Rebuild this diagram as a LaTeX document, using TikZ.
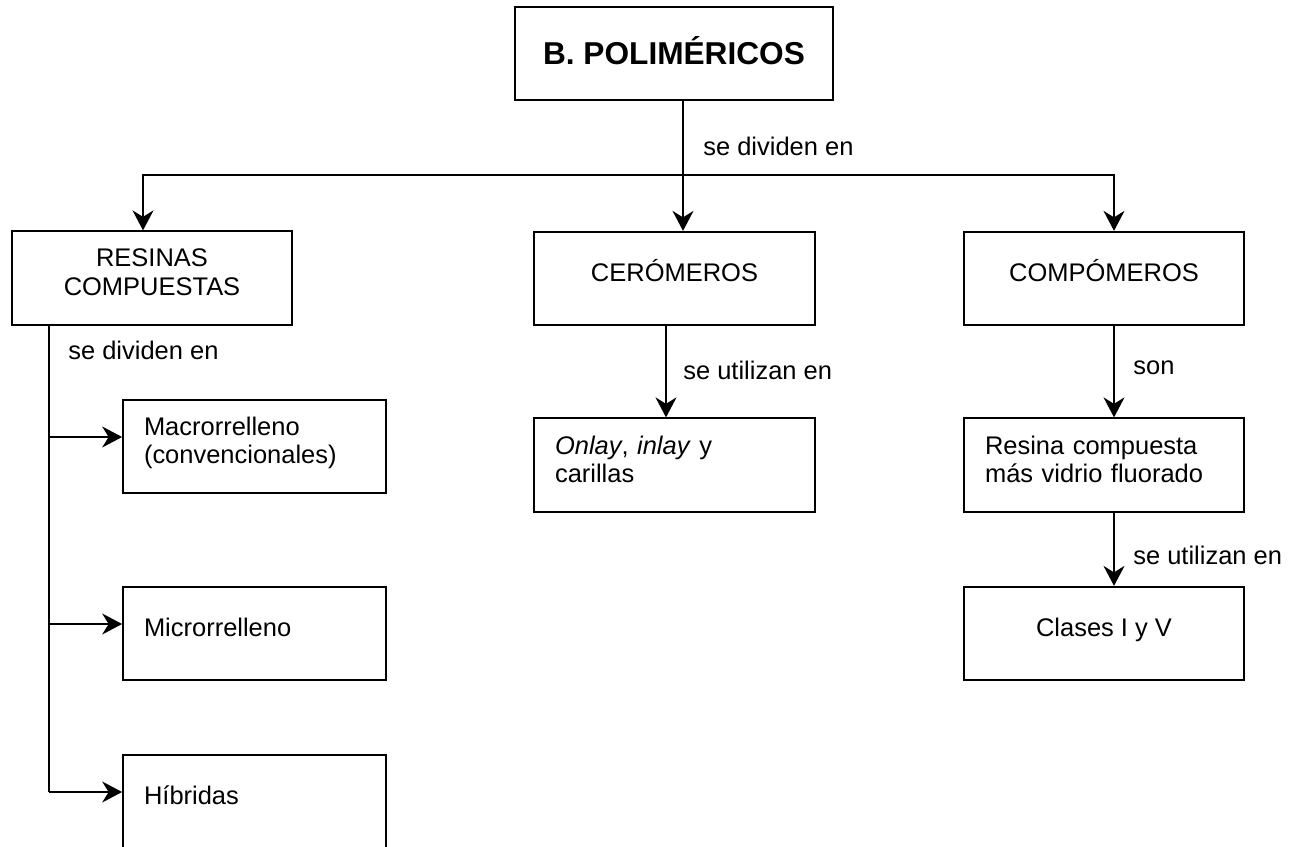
\documentclass[tikz,border=0pt]{standalone}
\usepackage{fontspec}
\setmainfont{Liberation Sans}
\usetikzlibrary{arrows.meta, positioning}

\begin{document}
\begin{tikzpicture}[
    x=0.02cm, y=-0.02cm,
    font=\fontsize{14.5}{16}\selectfont,
    box/.style={rectangle, draw=black, line width=1pt, minimum height=1.87cm, minimum width=5.6cm, align=center, text height=0.37cm, text depth=0.25cm},
    leftbox/.style={rectangle, draw=black, line width=1pt, minimum height=1.87cm, inner xsep=0.42cm, text width=#1, align=left, text height=0.37cm, text depth=0.25cm},
    two/.style={text depth=0.81cm},
    lbl/.style={inner sep=0pt, anchor=west},
    arr/.style={-{Stealth[length=4mm, width=4.2mm, inset=1.3mm]}, line width=1pt}
]
    \useasboundingbox (0,0) rectangle (1290,847);

    % Top
    \node[box, minimum width=6.36cm, text height=0.46cm, text depth=0cm, font=\fontsize{18}{20}\selectfont\bfseries] (title) at (674,53.5) {B. POLIMÉRICOS};

    % Main groups
    \node[leftbox=4.76cm, two, align=center] (res) at (152,278) {RESINAS\\COMPUESTAS};
    \node[box, minimum width=5.62cm] (cer) at (674.5,278.5) {CERÓMEROS};
    \node[box] (comp) at (1104,278.5) {COMPÓMEROS};

    % Second level
    \node[leftbox=4.78cm, two] (onl) at (674.5,465) {\textit{Onlay}, \textit{inlay} y\\carillas};
    \node[leftbox=4.76cm, two] (resv) at (1104,465) {Resina compuesta\\más vidrio fluorado};
    \node[box] (cls) at (1104,633.5) {Clases I y V};

    % Kinds of resin
    \node[leftbox=4.42cm, two] (mac) at (254.5,446.5) {Macrorrelleno\\(convencionales)};
    \node[leftbox=4.42cm] (mic) at (254.5,633.5) {Microrrelleno};
    \node[leftbox=4.42cm] (hib) at (254.5,801.5) {Híbridas};

    % Junctions
    \coordinate (jc) at (683,175);
    \coordinate (jl) at (143,175);
    \coordinate (jr) at (1114,175);
    \coordinate (rx) at (49,325);

    % Arrows
    \draw[arr] (title.south -| jc) -- (cer.north -| jc);
    \draw[arr] (jc) -| (res.north -| jl);
    \draw[arr] (jc) -| (comp.north -| jr);
    \draw[arr] ([xshift=-0.17cm]cer.south) -- ([xshift=-0.17cm]onl.north);
    \draw[arr] ([xshift=0.2cm]comp.south) -- ([xshift=0.2cm]resv.north);
    \draw[arr] ([xshift=0.2cm]resv.south) -- ([xshift=0.2cm]cls.north);

    \draw[line width=1pt] (res.south -| rx) -- (rx |- 0,792);
    \foreach \n in {mac, mic, hib}{
        \coordinate (tip) at ([yshift=0.19cm]\n.west);
        \draw[arr] (rx |- tip) -- (tip);
    }

    % Labels
    \node[lbl] (ltop) at (703,146) {se dividen en};
    \node[lbl] (lres) at (68,350) {se dividen en};
    \node[lbl] (lcer) at (683,370) {se utilizan en};
    \node[lbl] (lcomp) at (1133,368) {son};
    \node[lbl] (lresv) at (1133,555) {se utilizan en};
\end{tikzpicture}
\end{document}
